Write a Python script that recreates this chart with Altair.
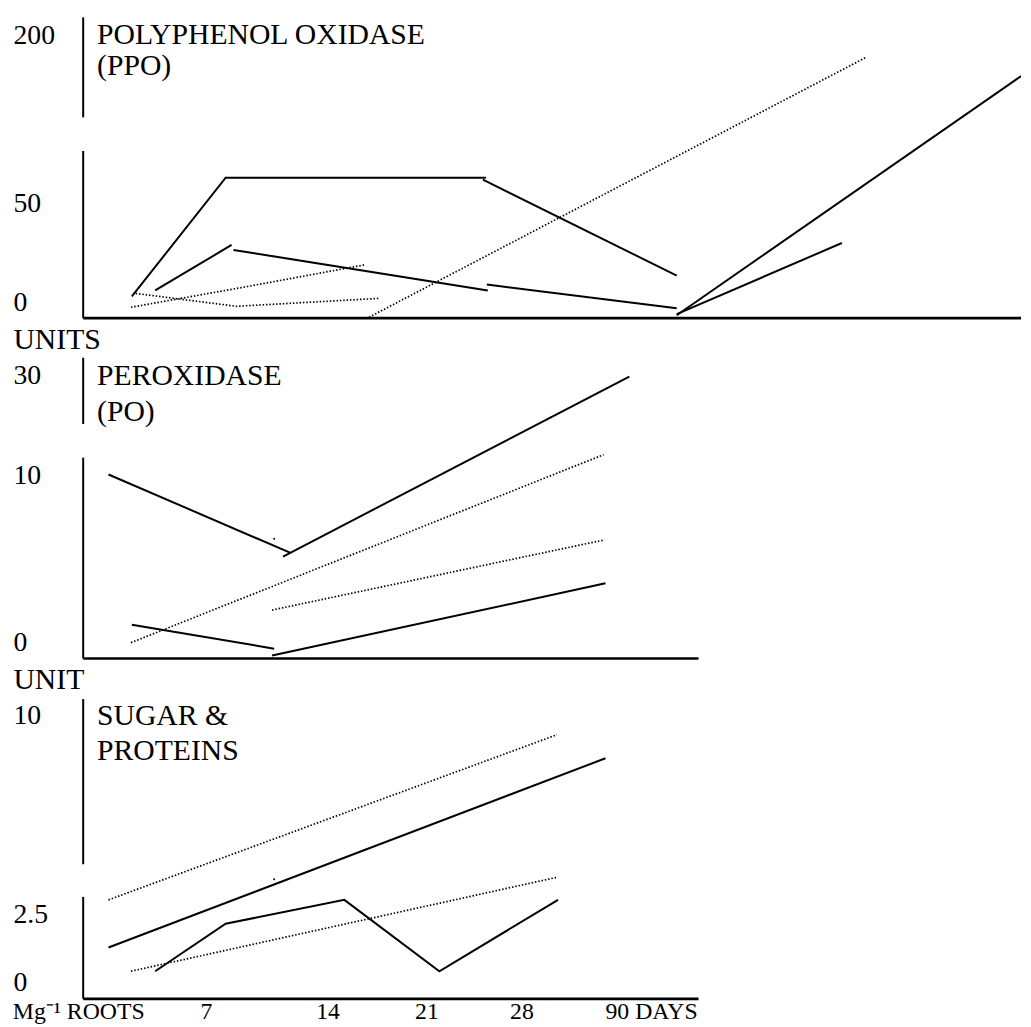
import altair as alt
import pandas as pd

FONT = "Liberation Serif"

# ---------------- data ----------------
# x axis: sampling times (days) and their labels
x_tick_days = [0, 7, 14, 21, 28, 90]
x_tick_labels = ["Mg⁻¹ ROOTS", "7", "14", "21", "28", "90 DAYS"]

# Panel 1: polyphenol oxidase (PPO) - each entry: (days, units)
ppo_ticks = [0, 50, 200]
ppo_solid = [
    ([2.94, 8.14, 25.38], [3.0, 72.9, 72.9]),
    ([25.16, 102.3], [71.2, 13.5]),
    ([4.22, 8.48], [6.0, 29.0]),
    ([8.59, 25.52], [26.5, 6.0]),
    ([25.45, 102.3], [9.0, -3.0]),
    ([102.3, 267.0], [-6.5, 163.5]),
    ([102.3, 181.3], [-6.0, 30.0]),
]
ppo_dotted = [
    ([3.15, 8.76, 17.64], [4.5, -2.0, 2.0]),
    ([2.89, 9.39, 16.66], [-2.5, 8.0, 19.0]),
    ([16.94, 193.2], [-7.5, 180.6]),
]

# Panel 2: peroxidase (PO)
po_ticks = [0, 10, 30]
po_solid = [
    ([1.66, 11.84], [10.2, 5.38]),
    ([11.44, 79.6], [5.15, 29.8]),
    ([2.94, 10.93], [1.07, -0.36]),
    ([10.81, 68.2], [-0.77, 3.55]),
]
po_dotted = [
    ([2.89, 67.3], [0.0, 14.16]),
    ([10.81, 67.8], [1.95, 6.15]),
]
po_specks = ([10.93], [6.21])

# Panel 3: sugar & proteins
sp_ticks = [0, 2.5, 10]
sp_solid = [
    ([1.66, 68.2], [1.30, 8.40]),
    ([4.22, 8.14, 15.19, 21.95, 45.51], [0.43, 2.17, 3.06, 0.43, 3.06]),
]
sp_dotted = [
    ([1.66, 45.04], [3.06, 9.29]),
    ([2.89, 45.51], [0.43, 3.92]),
]
sp_specks = ([10.93], [3.84])

ppo_title = ["POLYPHENOL OXIDASE", "(PPO)"]
po_title = ["PEROXIDASE", "(PO)"]
sp_title = ["SUGAR &", "PROTEINS"]

# ---------------- layout (pixels) ----------------
PANEL_W = 948
x_tick_px = [-5, 124, 247, 347, 443, 574]


def seg_df(segs):
    rows = []
    for sid, (xs, ys) in enumerate(segs):
        for i, (x, y) in enumerate(zip(xs, ys)):
            rows.append({"seg": sid, "pt": i, "day": x, "val": y})
    return pd.DataFrame(rows)


def label_expr(values, labels):
    expr = "''"
    for v, l in reversed(list(zip(values, labels))):
        expr = f"datum.value == {v} ? '{l}' : ({expr})"
    return expr


def panel(ticks, tick_px, height, solid, dotted, title_lines, title_px,
          frame, specks=None, unit=None, unit_y=0, bottom_axis=False):
    xs = alt.Scale(domain=x_tick_days, range=x_tick_px, nice=False, zero=False)
    ys = alt.Scale(domain=ticks, range=tick_px, nice=False, zero=False)
    ykw = dict(values=ticks, labelExpr="'' + datum.value", labelAlign="left",
               labelBaseline="middle", labelPadding=71,
               ticks=False, tickSize=0,
               domain=False, grid=False, labelFont=FONT, labelFontSize=28,
               labelColor="black", labelOverlap=False)
    if unit:
        ykw.update(title=unit, titleAngle=0, titleAlign="left",
                   titleBaseline="middle", titleX=-71, titleY=unit_y,
                   titleFont=FONT, titleFontSize=30, titleFontWeight="normal",
                   titleColor="black")
    else:
        ykw.update(title=None)
    yaxis = alt.Axis(**ykw)
    if bottom_axis:
        xaxis = alt.Axis(values=x_tick_days,
                         labelExpr=label_expr(x_tick_days, x_tick_labels),
                         labelBaseline="middle", labelPadding=13, ticks=False,
                         tickSize=0, domain=False, grid=False, labelFont=FONT,
                         labelFontSize=24, labelColor="black",
                         labelOverlap=False, labelFlush=False, title=None)
    else:
        xaxis = None

    X = alt.X("day:Q", scale=xs, axis=xaxis)
    Y = alt.Y("val:Q", scale=ys, axis=yaxis)

    solid_l = alt.Chart(seg_df(solid)).mark_line(
        color="black", strokeWidth=2, clip=True
    ).encode(x=X, y=Y, detail="seg:N", order="pt:Q")
    dotted_l = alt.Chart(seg_df(dotted)).mark_line(
        color="black", strokeWidth=1.7, strokeDash=[1.5, 1.9], strokeCap="butt",
        clip=True
    ).encode(x=X, y=Y, detail="seg:N", order="pt:Q")

    fr = pd.DataFrame(frame, columns=["x", "x2", "y", "y2", "w"])
    frame_l = alt.Chart(fr).mark_rule(color="black").encode(
        x=alt.X("x:Q", scale=None), x2="x2:Q",
        y=alt.Y("y:Q", scale=None), y2="y2:Q",
        strokeWidth=alt.StrokeWidth("w:Q", scale=None),
    )
    tdf = pd.DataFrame({"t": title_lines,
                        "px": [p[0] for p in title_px],
                        "py": [p[1] for p in title_px]})
    title_l = alt.Chart(tdf).mark_text(
        align="left", baseline="middle", font=FONT, fontSize=30, color="black"
    ).encode(x=alt.X("px:Q", scale=None), y=alt.Y("py:Q", scale=None), text="t:N")

    layers = [frame_l, solid_l, dotted_l, title_l]
    if specks:
        sdf = pd.DataFrame({"day": specks[0], "val": specks[1]})
        layers.append(alt.Chart(sdf).mark_circle(color="black", size=4, opacity=1)
                      .encode(x=X, y=Y))
    return alt.layer(*layers).properties(width=PANEL_W, height=height)


p1 = panel(ppo_ticks, [292, 192, 22], 308, ppo_solid, ppo_dotted, ppo_title,
           [(14, 22), (14, 53)],
           [(0, 0, 4, 105, 2), (0, 0, 139, 308, 2), (0, 948, 308, 308, 2.7)])
p2 = panel(po_ticks, [326, 157, 56], 342, po_solid, po_dotted, po_title,
           [(14, 57), (14, 93)],
           [(0, 0, 38, 105, 2), (0, 0, 139, 342, 2), (0, 622, 342, 342, 2.7)],
           specks=po_specks, unit="UNITS", unit_y=20)
p3 = panel(sp_ticks, [326, 257, 56], 342, sp_solid, sp_dotted, sp_title,
           [(14, 56), (14, 92)],
           [(0, 0, 39, 206, 2), (0, 0, 239, 342, 2), (0, 622, 342, 342, 2.7)],
           specks=sp_specks, unit="UNIT", unit_y=19, bottom_axis=True)

chart = alt.vconcat(p1, p2, p3, spacing=0).properties(
    padding={"left": 4, "top": 0, "right": 0, "bottom": 0},
    background="white",
).configure_view(stroke="transparent", strokeWidth=0)

chart.save("out.html", embed_options={"renderer": "svg", "actions": False})
